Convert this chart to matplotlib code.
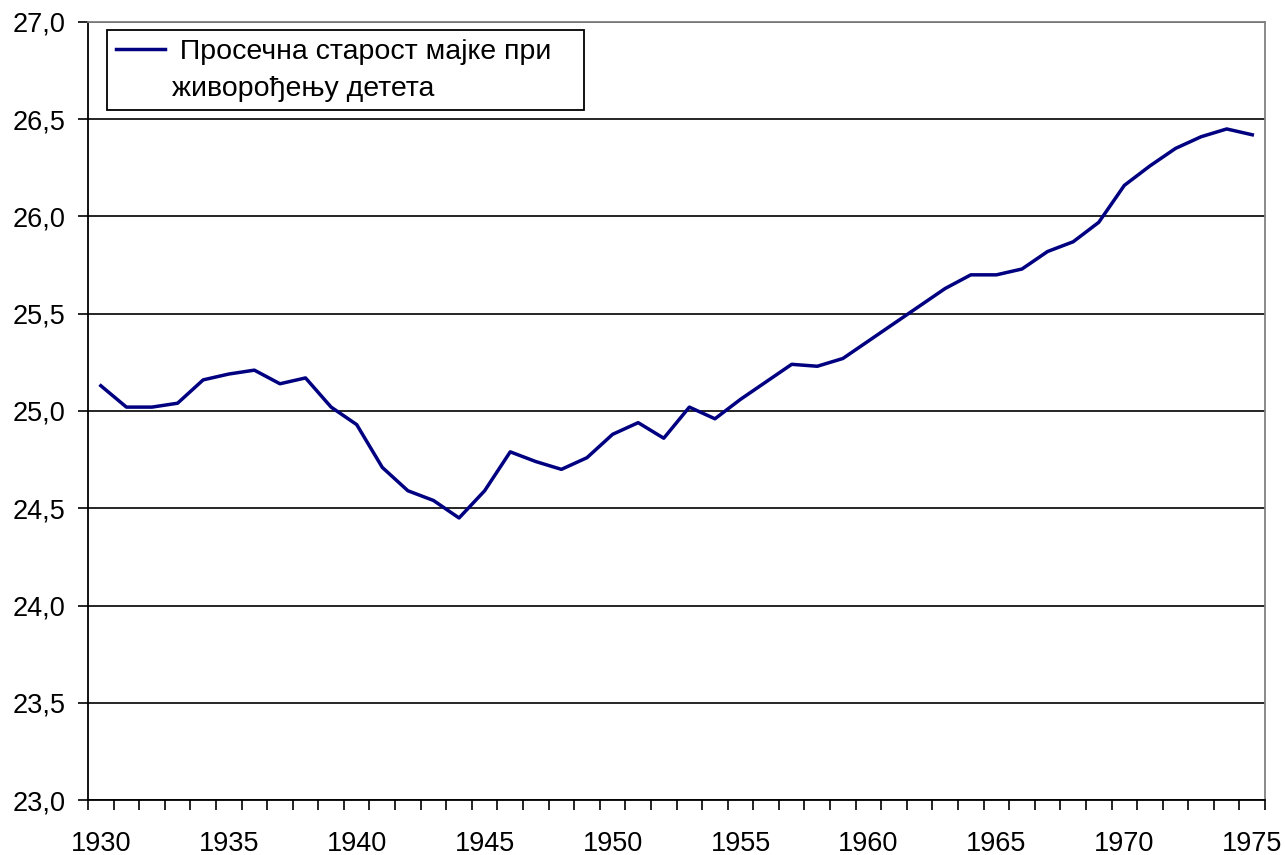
#!/usr/bin/env python3

import numpy as np
import matplotlib
matplotlib.use("Agg")
import matplotlib.pyplot as plt
from matplotlib.lines import Line2D
from matplotlib.ticker import FuncFormatter

DPI = 100
FIGSIZE = (12.85, 8.55)

years = list(range(1930, 1976))
mean_age = [
    25.13, 25.02, 25.02, 25.04, 25.16, 25.19, 25.21, 25.14, 25.17, 25.02,
    24.93, 24.71, 24.59, 24.54, 24.45, 24.59, 24.79, 24.74, 24.70, 24.76,
    24.88, 24.94, 24.86, 25.02, 24.96, 25.06, 25.15, 25.24, 25.23, 25.27,
    25.36, 25.45, 25.54, 25.63, 25.70, 25.70, 25.73, 25.82, 25.87, 25.97,
    26.16, 26.26, 26.35, 26.41, 26.45, 26.42,
]
series_label = " Просечна старост мајке при   "
series_label_2 = "живорођењу детета"
year_ticks = list(range(1930, 1976, 5))
age_ticks = np.arange(23.0, 27.01, 0.5)

plt.rcParams['font.family'] = ['Liberation Sans', 'DejaVu Sans']
plt.rcParams['font.size'] = 19.5

fig = plt.figure(figsize=FIGSIZE, dpi=DPI)
ax = fig.add_axes([0.0685, 0.0643, 0.9160, 0.9100])

line, = ax.plot(years, mean_age, color='#000080', lw=2.5, zorder=3)

ax.set_xlim(years[0] - 0.5, years[-1] + 0.5)
ax.set_ylim(23.0, 27.0)

# category style x axis: marks between years, labels every 5 years
ax.set_xticks(year_ticks)
ax.set_xticks(np.arange(years[0] - 0.5, years[-1] + 1.0, 1.0), minor=True)
ax.tick_params(axis='x', which='major', length=0, pad=22)
ax.tick_params(axis='x', which='minor', direction='out', length=7, width=1.2)

ax.set_yticks(age_ticks)
ax.yaxis.set_major_formatter(FuncFormatter(lambda v, p: f"{v:.1f}".replace('.', ',')))
ax.tick_params(axis='y', direction='out', length=7, width=1.2, pad=9)

ax.yaxis.grid(True, color='black', lw=1.2)

for side in ('left', 'bottom'):
    ax.spines[side].set_color('black')
    ax.spines[side].set_linewidth(1.3)
for side in ('top', 'right'):
    ax.spines[side].set_color('#808080')
    ax.spines[side].set_linewidth(1.3)

blank = Line2D([], [], color='none')
leg = ax.legend([line, blank], [series_label, series_label_2],
                loc='upper left', bbox_to_anchor=(0.0161, 0.9897),
                borderaxespad=0, fancybox=False, framealpha=1,
                edgecolor='black', handlelength=1.75, handletextpad=0.25,
                labelspacing=0.4, borderpad=0.3, prop={'size': 20.5})
leg.get_frame().set_linewidth(1.3)

fig.savefig('out.png', dpi=DPI)
plt.close(fig)
